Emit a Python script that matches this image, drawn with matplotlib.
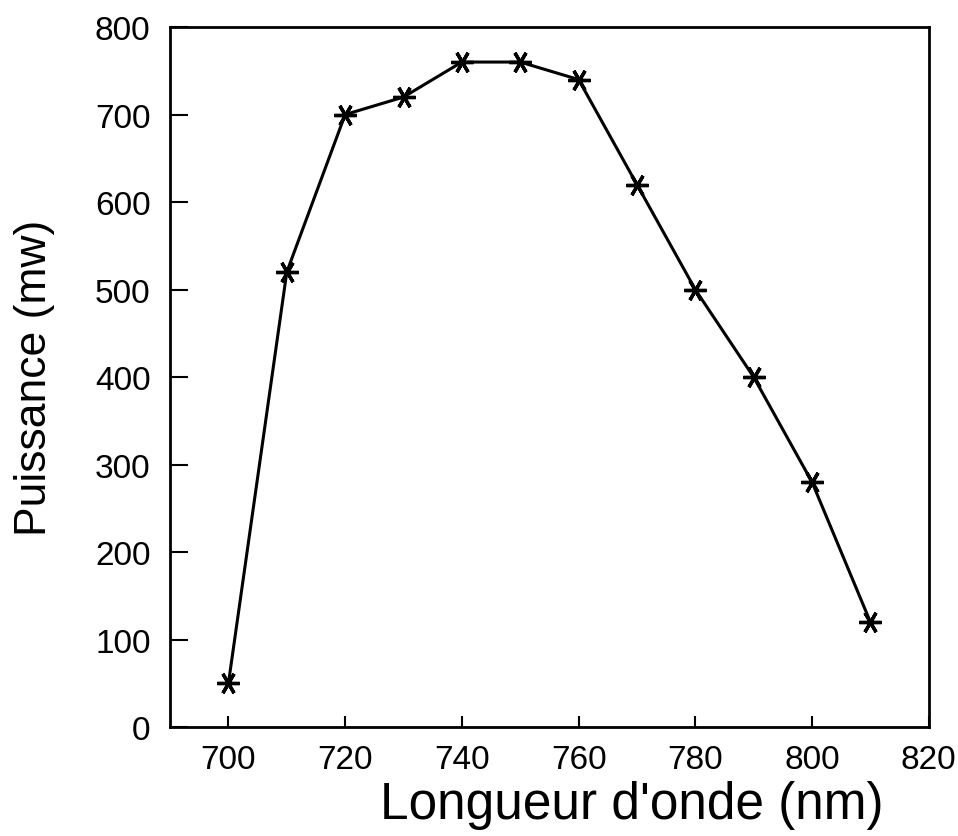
import numpy as np
import matplotlib.pyplot as plt

plt.rcParams['font.family'] = ['Liberation Sans', 'DejaVu Sans']

wavelength = [700, 710, 720, 730, 740, 750, 760, 770, 780, 790, 800, 810]
power = [50, 520, 700, 720, 760, 760, 740, 620, 500, 400, 280, 120]

xticks = [700, 720, 740, 760, 780, 800, 820]
yticks = [0, 100, 200, 300, 400, 500, 600, 700, 800]

fig = plt.figure(figsize=(9.58, 8.37), dpi=100)
ax = fig.add_axes([0.1775, 0.130, 0.792, 0.8365])

ax.plot(wavelength, power, color='black', lw=2.2,
        marker=(6, 2, 30), markersize=16, markeredgewidth=2.4)

ax.set_xlim(690, 820)
ax.set_ylim(0, 800)
ax.set_xticks(xticks)
ax.set_yticks(yticks)
ax.tick_params(direction='in', width=1.5, labelsize=24,
               top=False, right=False)
ax.tick_params(axis='x', length=8, pad=12)
ax.tick_params(axis='y', length=13, pad=14)
for s in ax.spines.values():
    s.set_linewidth(2)

ax.set_xlabel("Longueur d'onde (nm)", fontsize=37)
ax.xaxis.set_label_coords((632 - 170) / 759, -0.075)
ax.set_ylabel('Puissance (mw)', fontsize=32)
ax.yaxis.set_label_coords(-0.152, 0.5)

fig.savefig('out.png', dpi=100)
